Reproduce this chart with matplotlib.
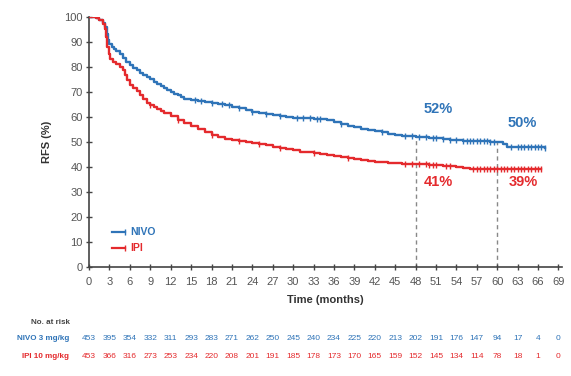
import matplotlib
matplotlib.use("Agg")
import matplotlib.pyplot as plt
import numpy as np

plt.rcParams["font.family"] = ["Liberation Sans Narrow", "Liberation Sans", "DejaVu Sans"]

# ---- Kaplan-Meier curves (months, RFS %) ----
nivo_t = [0, 0.5, 1, 1.5, 2, 2.3, 2.6, 2.8, 3, 3.3, 3.7, 4, 4.5, 5, 5.5, 6, 6.5, 7, 7.5,
          8, 8.5, 9, 9.5, 10, 10.5, 11, 11.5, 12, 12.5, 13, 13.5, 14, 15, 16, 17, 18,
          19, 20, 21, 22, 23, 24, 25, 26, 27, 28, 29, 30, 31, 32, 33, 34, 35, 36, 37,
          38, 39, 40, 41, 42, 43, 44, 45, 46, 47, 48, 49, 50, 51, 52, 53, 54, 55, 56,
          57, 58, 59, 60, 60.8, 61.5, 64, 67]
nivo_s = [100, 99.8, 99.3, 98.7, 97.5, 96, 93, 90.5, 89, 88, 87, 86.2, 85, 83.5, 82,
          80.5, 79.5, 78.5, 77.5, 76.8, 76, 75, 74, 73, 72.2, 71.5, 70.6, 70, 69.2,
          68.5, 67.8, 67.2, 66.8, 66.3, 65.8, 65.4, 65, 64.6, 64, 63.3, 62.6, 62, 61.4,
          61, 60.5, 60.2, 59.8, 59.5, 59.4, 59.3, 59.2, 59, 58.6, 57.8, 57, 56.3, 55.8,
          55.2, 54.7, 54.2, 53.7, 53.2, 52.7, 52.4, 52.2, 52, 51.8, 51.6, 51.4, 51.1,
          50.8, 50.6, 50.4, 50.3, 50.2, 50.1, 50, 50, 49, 48, 47.8, 47.5]

ipi_t = [0, 0.5, 1, 1.5, 2, 2.3, 2.5, 2.7, 2.9, 3.1, 3.5, 4, 4.5, 5, 5.3, 5.6, 6, 6.5,
         7, 7.5, 8, 8.5, 9, 9.5, 10, 10.5, 11, 12, 13, 14, 15, 16, 17, 18, 19, 20, 21,
         22, 23, 24, 25, 26, 27, 28, 29, 30, 31, 32, 33, 34, 35, 36, 37, 38, 39, 40,
         41, 42, 43, 44, 45, 46, 47, 48, 49, 50, 51, 52, 53, 54, 55, 56, 66.5]
ipi_s = [100, 99.8, 99.3, 98.5, 97, 95, 92, 88, 85, 83, 82, 81, 79.8, 78.5, 76.5, 74.5,
         72.5, 71.3, 70.2, 68.8, 67, 65.5, 64.8, 63.8, 63, 62.3, 61.6, 60.2, 58.8, 57.5,
         56.4, 55.2, 53.8, 52.8, 52, 51.2, 50.7, 50.3, 49.8, 49.4, 49, 48.5, 48, 47.5,
         47, 46.5, 46, 45.7, 45.4, 45, 44.7, 44.3, 44, 43.6, 43.2, 42.8, 42.4, 42, 41.8,
         41.6, 41.4, 41.2, 41.1, 41, 40.9, 40.8, 40.6, 40.4, 40.2, 39.8, 39.4, 39, 39]

# censoring times
nivo_cens = [15.5, 16.5, 18, 19.5, 20.5, 22, 24, 26, 28, 30.5, 31.5, 32.5, 33.5, 34, 37,
             43, 46.5, 47.5, 48.5, 49.5, 50.5, 51, 52, 53, 54, 55, 55.5, 56, 56.5, 57,
             57.5, 58, 58.5, 59, 59.5, 62, 63, 63.5, 64, 64.5, 65, 65.5, 66, 66.5, 67]
ipi_cens = [9, 13, 18, 22, 25, 28, 33, 38, 46.5, 47.5, 48.5, 49.5, 50, 50.5, 51, 52.5,
            53, 56.5, 57, 57.5, 58, 58.5, 59, 59.5, 60, 60.5, 61, 61.5, 62, 62.5, 63,
            63.5, 64, 64.5, 65, 65.5, 66, 66.5]

# landmark estimates
land_t = [48, 60]
nivo_land = [52, 50]
ipi_land = [41, 39]

# ---- number at risk ----
risk_t = list(range(0, 70, 3))
nivo_risk = [453, 395, 354, 332, 311, 293, 283, 271, 262, 250, 245, 240, 234, 225, 220,
             213, 202, 191, 176, 147, 94, 17, 4, 0]
ipi_risk = [453, 366, 316, 273, 253, 234, 220, 208, 201, 191, 185, 178, 173, 170, 165,
            159, 152, 145, 134, 114, 78, 18, 1, 0]

BLUE = "#2f74b8"
RED = "#e42a2d"
GREY = "#555555"


def step_at(t, times, surv):
    idx = np.searchsorted(times, t, side="right") - 1
    return np.asarray(surv)[idx]


fig = plt.figure(figsize=(5.71, 3.76), dpi=100)
ax = fig.add_axes([0.156, 0.291, 0.828, 0.665])

# dashed landmark lines
for t, v in zip(land_t, nivo_land):
    ax.plot([t, t], [0, v], ls=(0, (3, 2.5)), color="#888888", lw=1.0, zorder=1)

ax.step(nivo_t, nivo_s, where="post", color=BLUE, lw=1.7, zorder=3)
ax.step(ipi_t, ipi_s, where="post", color=RED, lw=1.7, zorder=3)
ax.plot(nivo_cens, step_at(nivo_cens, nivo_t, nivo_s), ls="none", marker="|",
        ms=4, mew=1.0, color=BLUE, zorder=4)
ax.plot(ipi_cens, step_at(ipi_cens, ipi_t, ipi_s), ls="none", marker="|",
        ms=4, mew=1.0, color=RED, zorder=4)

# landmark percentage labels
pct_font = dict(fontsize=10.5, fontweight="bold", ha="center", va="center",
                family=["Liberation Sans", "DejaVu Sans"])
for t, v, dy in zip(land_t, nivo_land, [11, 7.5]):
    ax.text(t + 3.3 + (t == 60) * 0.4, v + dy, f"{v}%", color=BLUE, **pct_font)
for t, v in zip(land_t, ipi_land):
    ax.text(t + 3.3 + (t == 60) * 0.6, 34, f"{v}%", color=RED, **pct_font)

# legend
ax.plot([3.3, 5.3], [13.8, 13.8], color=BLUE, lw=1.6, marker="|", ms=4, markevery=[1])
ax.plot([3.3, 5.3], [7.6, 7.6], color=RED, lw=1.6, marker="|", ms=4, markevery=[1])
ax.text(6.0, 13.8, "NIVO", color=BLUE, fontsize=7.5, fontweight="bold", va="center")
ax.text(6.0, 7.6, "IPI", color=RED, fontsize=7.5, fontweight="bold", va="center")

ax.set_xlim(0, 69.5)
ax.set_ylim(0, 100)
ax.set_xticks(risk_t)
ax.set_yticks(range(0, 101, 10))
ax.tick_params(axis="both", direction="inout", length=5, width=1, colors="#444444",
               labelsize=8, labelcolor=GREY)
ax.tick_params(axis="x", pad=5)
ax.tick_params(axis="y", pad=2)
for side in ("top", "right"):
    ax.spines[side].set_visible(False)
for side in ("left", "bottom"):
    ax.spines[side].set_color("#444444")
    ax.spines[side].set_linewidth(1.2)

ax.set_ylabel("RFS (%)", fontsize=8, fontweight="bold", color="#333333", labelpad=9)
ax.set_xlabel("Time (months)", fontsize=8, fontweight="bold", color="#333333", labelpad=6)

# number-at-risk table
trans = ax.get_xaxis_transform()
fig.text(70 / 571, 1 - 323 / 376, "No. at risk", fontsize=5.8, fontweight="bold",
         color="#444444", ha="right", va="center")
fig.text(69 / 571, 1 - 339 / 376, "NIVO 3 mg/kg", fontsize=5.8, fontweight="bold",
         color=BLUE, ha="right", va="center")
fig.text(69 / 571, 1 - 357 / 376, "IPI 10 mg/kg", fontsize=5.8, fontweight="bold",
         color=RED, ha="right", va="center")
y_nivo = (1 - 339 / 376 - 0.291) / 0.665
y_ipi = (1 - 357 / 376 - 0.291) / 0.665
for t, n in zip(risk_t, nivo_risk):
    ax.text(t, y_nivo, str(n), transform=trans, fontsize=6, color=BLUE,
            ha="center", va="center", clip_on=False)
for t, n in zip(risk_t, ipi_risk):
    ax.text(t, y_ipi, str(n), transform=trans, fontsize=6, color=RED,
            ha="center", va="center", clip_on=False)

fig.savefig("out.png", dpi=100)
